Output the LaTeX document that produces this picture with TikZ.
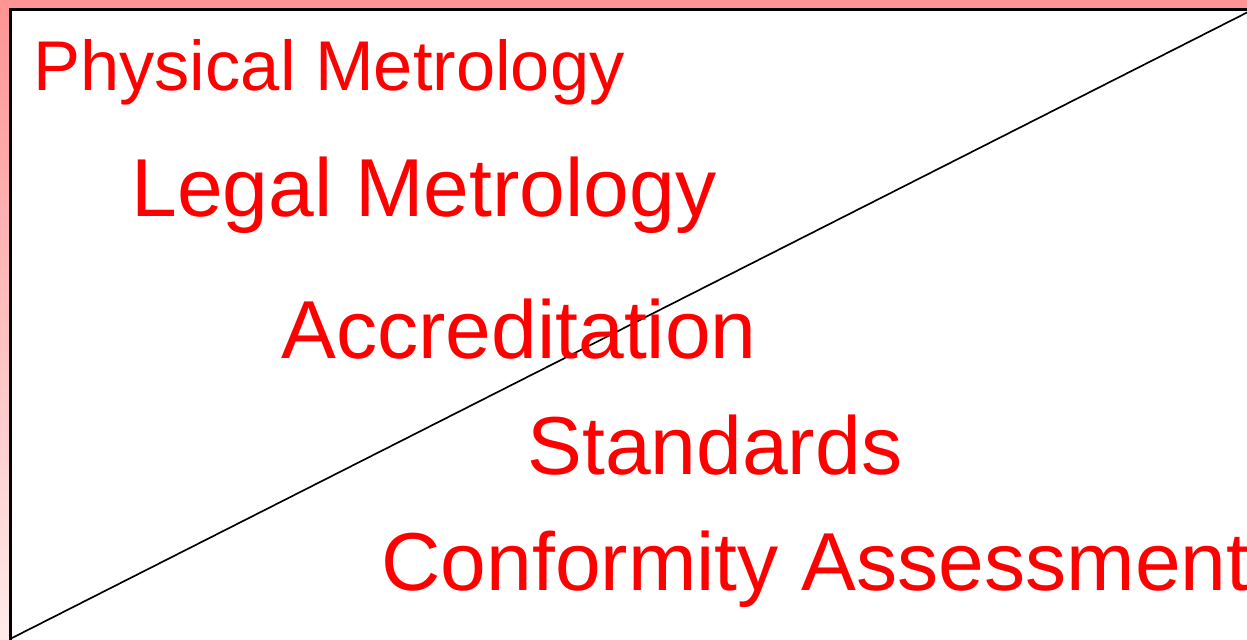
\documentclass[tikz,border=0pt]{standalone}
\usepackage{fontspec}
\setmainfont{Liberation Sans}
\begin{document}
\begin{tikzpicture}[x=0.02cm,y=-0.02cm]
 \tikzstyle{topic}=[anchor=base west,inner sep=0pt,text=red]
 \tikzstyle{small}=[font=\fontsize{40.1}{46}\selectfont]
 \tikzstyle{big}=[font=\fontsize{46.8}{54}\selectfont]
 %
 \useasboundingbox (0,0) rectangle (1247,639);
 \clip (0,0) rectangle (1247,639);
 \shade[top color=red!42,bottom color=red!8] (0,0) rectangle (1247,639);
 \draw[fill=white,line width=1.3pt] (10.5,9.5) rectangle (1270,660);
 %
 \coordinate (low) at (12,638);
 \coordinate (high) at (1250,11);
 \draw[line width=0.95pt] (low)--(high);
 %
 \node[topic,small] (phys) at (33,90) {Physical Metrology};
 \node[topic,big] (legal) at (131,216) {Legal Metrology};
 \node[topic,big] (accr) at (281,358) {Accreditation};
 \node[topic,big] (stand) at (527,474) {Standards};
 \node[topic,big] (conf) at (381,590) {Conformity Assessment};
\end{tikzpicture}
\end{document}
